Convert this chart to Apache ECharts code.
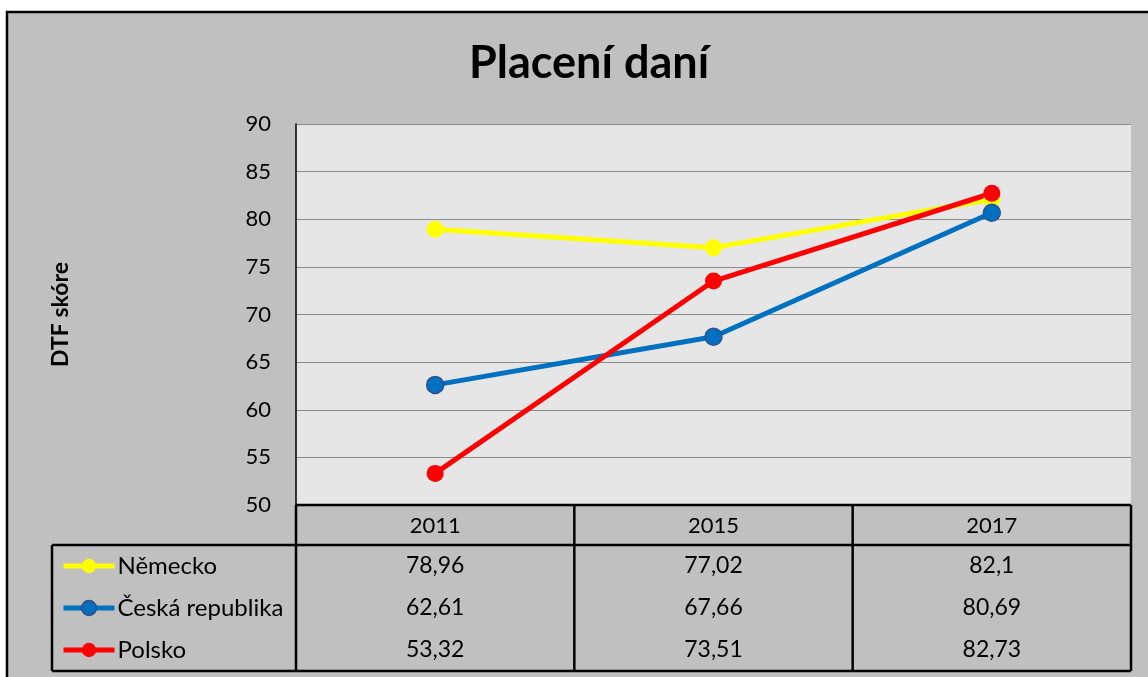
<!DOCTYPE html>
<html>
<head>
<meta charset="utf-8">
<script src="https://cdn.jsdelivr.net/npm/echarts@6/dist/echarts.min.js"></script>
<style>
  html, body { margin: 0; padding: 0; background: #fff; }
  #chart { width: 1148px; height: 677px; }
</style>
</head>
<body>
<div id="chart"></div>
<script>
// data
var years = ['2011', '2015', '2017'];
var nemecko = [78.96, 77.02, 82.1];
var ceskaRepublika = [62.61, 67.66, 80.69];
var polsko = [53.32, 73.51, 82.73];
var seriesNames = ['Německo', 'Česká republika', 'Polsko'];
var seriesColors = ['#ffff00', '#0070c0', '#ff0000'];

var chart = echarts.init(document.getElementById('chart'));

// plot area / table geometry
var W = 1148, H = 677;
var gLeft = 296, gRight = 1131, gTop = 124, gBottom = 505;
var headH = 40, rowH = 42, tableLeft = 52;
var colW = (gRight - gLeft) / years.length;
var font = 'Lato, "Open Sans", sans-serif';

function fmt(v) { return String(v).replace('.', ','); }

var allRows = [nemecko, ceskaRepublika, polsko];
var graphics = [];

// outer frame
graphics.push({
  type: 'rect', z: -10, silent: true,
  shape: { x: 7, y: 12, width: W + 20, height: H + 20 },
  style: { fill: '#c0c0c0', stroke: '#000', lineWidth: 2.5 }
});

// table lines
var lineStyle = { stroke: '#000', lineWidth: 2.5 };
var bodyTop = gBottom + headH, bodyBottom = bodyTop + rowH * allRows.length;
function line(x1, y1, x2, y2) {
  graphics.push({ type: 'line', silent: true, z: 10, shape: { x1: x1, y1: y1, x2: x2, y2: y2 }, style: lineStyle });
}
line(gLeft, gBottom, gRight, gBottom);
line(tableLeft, bodyTop, gRight, bodyTop);
line(tableLeft, bodyBottom, gRight, bodyBottom);
line(tableLeft, bodyTop, tableLeft, bodyBottom);
for (var c = 0; c <= years.length; c++) {
  line(gLeft + c * colW, gBottom, gLeft + c * colW, bodyBottom);
}

// header and values
years.forEach(function (y, i) {
  var cx = gLeft + (i + 0.5) * colW;
  graphics.push({
    type: 'text', silent: true, z: 11,
    x: cx, y: gBottom + headH / 2 + 1,
    style: { text: y, font: '22px ' + font, fill: '#000', align: 'center', verticalAlign: 'middle' }
  });
  allRows.forEach(function (row, r) {
    graphics.push({
      type: 'text', silent: true, z: 11,
      x: cx, y: bodyTop + (r + 0.5) * rowH,
      style: { text: fmt(row[i]), font: '23px ' + font, fill: '#000', align: 'center', verticalAlign: 'middle' }
    });
  });
});

function makeSeries(name, data, color, border) {
  return {
    name: name,
    type: 'line',
    data: data,
    symbol: 'circle',
    symbolSize: 17,
    lineStyle: { color: color, width: 5 },
    itemStyle: { color: color, borderColor: border || color, borderWidth: border ? 1.5 : 0 },
    emphasis: { disabled: true }
  };
}

var option = {
  animation: false,
  backgroundColor: 'transparent',
  title: {
    text: 'Placení daní',
    left: 464,
    top: 36,
    textStyle: { fontFamily: font, fontSize: 45, fontWeight: 'bold', color: '#000' }
  },
  legend: {
    orient: 'vertical',
    left: 61,
    top: bodyTop + 9,
    height: 200,
    padding: 0,
    itemGap: 18,
    itemWidth: 51,
    itemHeight: 18,
    data: seriesNames,
    lineStyle: { width: 5 },
    textStyle: { fontFamily: font, fontSize: 24, color: '#000', padding: [0, 0, 0, -2] }
  },
  grid: {
    left: gLeft, right: W - gRight, top: gTop, bottom: H - gBottom,
    show: true, backgroundColor: '#e6e6e6', borderWidth: 0
  },
  xAxis: {
    type: 'category',
    data: years,
    boundaryGap: true,
    axisLine: { show: false },
    axisTick: { show: false },
    axisLabel: { show: false },
    splitLine: { show: false }
  },
  yAxis: {
    type: 'value',
    min: 50, max: 90, interval: 5,
    name: 'DTF skóre',
    nameLocation: 'middle',
    nameGap: 224,
    nameTextStyle: { fontFamily: font, fontSize: 23, fontWeight: 'bold', color: '#000' },
    axisLine: { show: true, lineStyle: { color: '#000', width: 1.5 } },
    axisTick: { show: false },
    axisLabel: { fontFamily: font, fontSize: 22, color: '#000', margin: 25 },
    splitLine: { lineStyle: { color: '#8c8c8c', width: 1.2 } }
  },
  series: [
    makeSeries(seriesNames[0], nemecko, seriesColors[0]),
    makeSeries(seriesNames[1], ceskaRepublika, seriesColors[1], '#2f528f'),
    makeSeries(seriesNames[2], polsko, seriesColors[2])
  ],
  graphic: graphics
};

chart.setOption(option);
</script>
</body>
</html>
